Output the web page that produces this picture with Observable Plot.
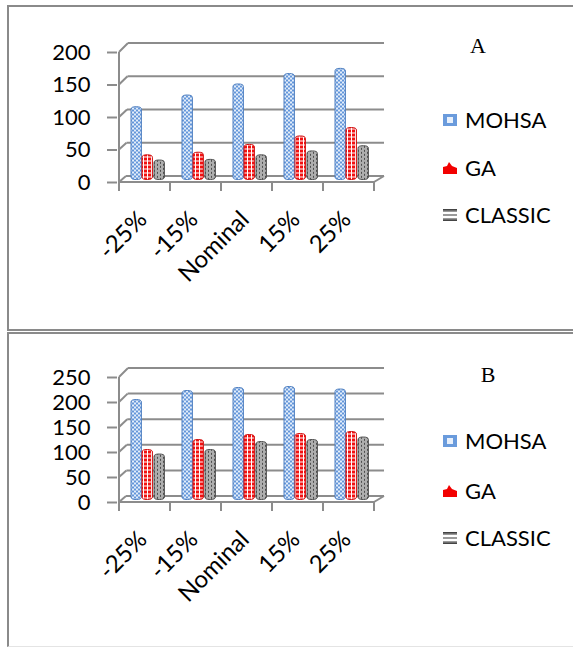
<!DOCTYPE html>
<html><head><meta charset="utf-8">
<script src="https://cdn.jsdelivr.net/npm/d3@7"></script>
<script src="https://cdn.jsdelivr.net/npm/@observablehq/plot@0.6"></script>
<style>
html,body{margin:0;padding:0;background:#fff;width:573px;height:648px;overflow:hidden;}
#page{position:relative;width:573px;height:648px;overflow:hidden;}
.chart{position:absolute;left:0;}
.panel{position:absolute;left:7px;width:620px;box-sizing:border-box;border-left:2px solid #8a8a8a;border-top:2px solid #8a8a8a;pointer-events:none;}
#overlay{position:absolute;left:0;top:0;pointer-events:none;}
</style></head><body>
<svg width="0" height="0" style="position:absolute">
<defs>
<pattern id="pMOHSA" width="4" height="4" patternUnits="userSpaceOnUse">
  <rect width="4" height="4" fill="#e4eefa"/>
  <rect width="2" height="2" fill="#6396da"/>
  <rect x="2" y="2" width="2" height="2" fill="#6396da"/>
</pattern>
<pattern id="pGA" width="4" height="4" patternUnits="userSpaceOnUse">
  <rect width="4" height="4" fill="#fff"/>
  <rect width="3" height="3" fill="#f21010"/>
</pattern>
<pattern id="pCLASSIC" width="6" height="4" patternUnits="userSpaceOnUse">
  <rect width="6" height="4" fill="#fff"/>
  <rect y="0" width="6" height="0.8" fill="#333"/>
  <rect y="2" width="6" height="0.8" fill="#333"/>
  <rect x="0" y="0" width="0.8" height="2" fill="#333"/>
  <rect x="3" y="2" width="0.8" height="2" fill="#333"/>
</pattern>
</defs>
</svg>
<div id="page"></div>
<script>
// ---- data ----
const categories = ["-25%", "-15%", "Nominal", "15%", "25%"];
const seriesNames = ["MOHSA", "GA", "CLASSIC"];
const mohsaA = [112, 130, 147, 163, 171];
const gaA = [38, 42, 54, 67, 80];
const classicA = [30, 31, 38, 44, 52];
const mohsaB = [200, 218, 224, 226, 221];
const gaB = [100, 120, 130, 132, 136];
const classicB = [91, 100, 116, 120, 125];
const yTicksA = [0, 50, 100, 150, 200];
const yTicksB = [0, 50, 100, 150, 200, 250];
const panelLabels = ["A", "B"];

const GRID = "#8c8c8c";
const FONT = "Lato, 'Open Sans', sans-serif";
const fills = {MOHSA: "url(#pMOHSA)", GA: "url(#pGA)", CLASSIC: "url(#pCLASSIC)"};
const strokes = {MOHSA: "#4f7fc0", GA: "#d01010", CLASSIC: "#505050"};
// sub-slot insets inside each category band (left, right) in px
const slots = {MOHSA: [8, 32.6], GA: [19, 21.6], CLASSIC: [31, 9.6]};

function frame3d(ticks) {
  return (index, scales) => {
    const {x, y} = scales;
    const max = ticks[ticks.length - 1];
    const bw = x(categories[1]) - x(categories[0]);
    const x0 = x(categories[0]);
    const x1 = x0 + bw * categories.length;
    const g = d3.create("svg:g").attr("stroke", GRID).attr("stroke-width", 2).attr("fill", "none");
    for (const t of ticks) {
      const yy = y(t);
      const ddx = 7 + 2 * t / max;
      const ddy = -6 - 3 * t / max;
      g.append("line").attr("x1", x0).attr("y1", yy).attr("x2", x0 + ddx).attr("y2", yy + ddy);
      g.append("line").attr("x1", x0 + ddx).attr("y1", yy + ddy).attr("x2", x1 + 10).attr("y2", yy + ddy);
    }
    const y0 = y(0);
    g.append("line").attr("x1", x0).attr("y1", y0).attr("x2", x0).attr("y2", y(max));
    g.append("line").attr("x1", x0).attr("y1", y0).attr("x2", x1).attr("y2", y0);
    g.append("line").attr("x1", x1).attr("y1", y0).attr("x2", x1 + 10).attr("y2", y0 - 6);
    for (let i = 0; i <= categories.length; i++) {
      const xx = x0 + i * bw;
      g.append("line").attr("x1", xx).attr("y1", y0).attr("x2", xx).attr("y2", y0 + 9);
    }
    return g.node();
  };
}

function makeChart(values, ticks, mTop, mBottom) {
  const marks = [frame3d(ticks)];
  seriesNames.forEach((s, k) => {
    const data = categories.map((c, i) => ({cat: c, value: values[k][i]}));
    marks.push(Plot.barY(data, {
      x: "cat", y: "value",
      insetLeft: slots[s][0], insetRight: slots[s][1],
      dx: 4, dy: -2.5,
      fill: fills[s], stroke: strokes[s], strokeWidth: 1,
      rx: 5, ry: 2.5
    }));
  });
  marks.push(Plot.axisY({ticks, tickSize: 10, tickPadding: 17, stroke: GRID, strokeWidth: 2, fill: "black", fontSize: 22, label: null, tickFormat: d => String(d)}));
  marks.push(Plot.axisX({tickSize: 0, tickPadding: 33, tickRotate: -45, dx: -2, fill: "black", fontSize: 24, label: null}));
  return Plot.plot({
    width: 400, height: 320,
    marginLeft: 117, marginRight: 25, marginTop: mTop, marginBottom: mBottom,
    style: {fontFamily: FONT, fontSize: "22px", background: "transparent", overflow: "visible"},
    x: {type: "band", domain: categories, padding: 0, label: null},
    y: {domain: [0, ticks[ticks.length - 1]], label: null},
    marks
  });
}

const page = document.getElementById("page");
const chartA = makeChart([mohsaA, gaA, classicA], yTicksA, 52, 138);
chartA.classList.add("chart"); chartA.style.top = "0px";
page.appendChild(chartA);
const chartB = makeChart([mohsaB, gaB, classicB], yTicksB, 52, 143);
chartB.classList.add("chart"); chartB.style.top = "325px";
page.appendChild(chartB);

// panel borders
const pA = document.createElement("div");
pA.className = "panel"; pA.style.top = "5px"; pA.style.height = "326px";
pA.style.borderBottom = "2px solid #8a8a8a";
page.appendChild(pA);
const pB = document.createElement("div");
pB.className = "panel"; pB.style.top = "332px"; pB.style.height = "315px";
pB.style.borderBottom = "1px solid #e4e4e4";
page.appendChild(pB);

// legend + panel letters overlay
const ov = d3.select(page).append("svg").attr("id", "overlay").attr("width", 573).attr("height", 648);
const legendY = [[120, 168, 215], [441, 491, 538]];
const letterPos = [[478, 53], [488, 382]];
[0, 1].forEach(p => {
  ov.append("text").attr("x", letterPos[p][0]).attr("y", letterPos[p][1])
    .attr("text-anchor", "middle").attr("font-family", "'Liberation Serif', 'Times New Roman', serif")
    .attr("font-size", 22).text(panelLabels[p]);
  seriesNames.forEach((s, k) => {
    const cy = legendY[p][k];
    const g = ov.append("g").attr("transform", `translate(443,${cy - 6})`);
    if (s === "MOHSA") {
      g.append("rect").attr("width", 14).attr("height", 12).attr("fill", "#6a9bdc");
      g.append("rect").attr("x", 4).attr("y", 3).attr("width", 6).attr("height", 6).attr("fill", "#e8f0fb");
    } else if (s === "GA") {
      g.append("path").attr("d", "M0,5 L4,4 L6,0 L9,4 L14,6 L14,12 L0,12 Z").attr("fill", "#f20000");
    } else {
      g.append("rect").attr("width", 14).attr("height", 12).attr("fill", "#9a9a9a");
      g.append("rect").attr("y", 3).attr("width", 14).attr("height", 2).attr("fill", "#fff");
      g.append("rect").attr("y", 7).attr("width", 14).attr("height", 2).attr("fill", "#fff");
      g.append("rect").attr("y", 0).attr("width", 14).attr("height", 1.5).attr("fill", "#444");
      g.append("rect").attr("y", 10.5).attr("width", 14).attr("height", 1.5).attr("fill", "#444");
    }
    ov.append("text").attr("x", 465).attr("y", cy + 8)
      .attr("font-family", FONT).attr("font-size", 22).text(s);
  });
});
</script>
</body></html>
